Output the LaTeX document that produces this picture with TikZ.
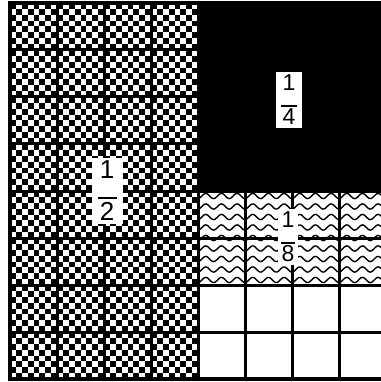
\documentclass[tikz,border=0pt]{standalone}
\usepackage{fontspec}
\setmainfont{Liberation Sans}
\begin{document}
\begin{tikzpicture}[x=1pt,y=-1pt,
  gridline/.style={line width=3pt},
  wave/.style={line width=1.4pt},
  lab/.style={fill=white, inner xsep=5pt, inner ysep=3pt, align=center},
  bigfont/.style={font=\fontsize{26}{23}\selectfont},
  smallfont/.style={font=\fontsize{23}{20}\selectfont}]
\useasboundingbox (0,0) rectangle (380,382);
\fill[white] (0,0) rectangle (380,382);
% checkerboard (left half)
\foreach \j in {0,...,63} {
  \pgfmathtruncatemacro\off{mod(\j,2)}
  \foreach \i in {0,...,15} {
    \fill[black] ({10+(2*\i+\off)*5.875},{3+\j*5.875}) rectangle ++(5.875,5.875);
  }
}
% black quarter
\fill[black] (198,3) rectangle (386,191);
% wavy eighth
\begin{scope}
  \clip (198,191) rectangle (386,285);
  \foreach \k in {0,...,8}
    \draw[wave] plot[domain=194:390, samples=150, smooth]
      (\x, {196+\k*10.5 + 2.6*sin((\x-194)*22.97)});
\end{scope}
% grid
\foreach \k in {0,...,8} {
  \draw[gridline] ({10+47*\k},3) -- ({10+47*\k},379);
  \draw[gridline] (10,{3+47*\k}) -- (386,{3+47*\k});
}
\draw[line width=4pt] (10,3) rectangle (386,379);
% labels
\node[lab, bigfont, inner xsep=6pt] (half) at (107,191) {1\\[-3pt]\rule{19pt}{2pt}\\[-1pt]2};
\node[lab, smallfont] (quarter) at (289,100) {1\\[-4pt]\rule{16pt}{2pt}\\[-2pt]4};
\node[lab, smallfont, inner xsep=3pt] (eighth) at (288,237) {1\\[-4pt]\rule{14pt}{2pt}\\[-2pt]8};
\end{tikzpicture}
\end{document}
